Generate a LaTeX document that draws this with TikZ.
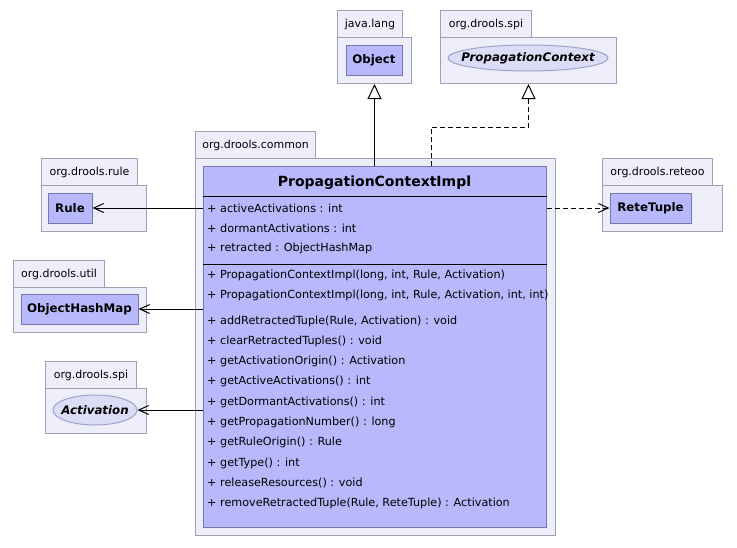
\documentclass[tikz,border=0pt]{standalone}
\usepackage{fontspec}
\setmainfont{DejaVu Sans}
\usetikzlibrary{arrows.meta,shapes.geometric}
\definecolor{pkgfill}{HTML}{EEEEFA}
\definecolor{pkgline}{HTML}{A0A0B4}
\definecolor{clsfill}{HTML}{B8B8FC}
\definecolor{clsline}{HTML}{7878A8}
\definecolor{ifcfill}{HTML}{DCDCF6}
\definecolor{ifcline}{HTML}{A0A0C8}
\tikzset{
  pkgbox/.style={draw=pkgline,fill=pkgfill,line width=1pt,anchor=north west,inner sep=0pt},
  pkglbl/.style={pkgbox,font=\fontsize{11}{13}\selectfont},
  cls/.style={draw=clsline,fill=clsfill,line width=1pt,inner sep=0pt,font=\fontsize{11.8}{14}\selectfont\bfseries},
  ifc/.style={ellipse,draw=ifcline,fill=ifcfill,line width=1pt,inner sep=0pt,font=\fontsize{11.8}{14}\selectfont\bfseries\itshape},
  member/.style={anchor=west,inner sep=0pt,font=\fontsize{11.2}{13}\selectfont},
  gen/.style={line width=1pt,-{Triangle[open,length=15pt,width=14pt]}},
  dep/.style={line width=1pt,-{Straight Barb[length=10pt,width=9pt]}},
}
\begin{document}
\begin{tikzpicture}[x=1pt,y=-1pt]
\useasboundingbox (0,0) rectangle (737,547);
% packages: name/x/y/tab width/body width/body height/label
\foreach \pk/\px/\py/\tw/\bw/\bh/\lb in {javalang/337/10/65/74/46/java.lang,spictx/440/10/91/176/46/org.drools.spi,common/195/131/120/360/377/org.drools.common,rule/41/158/96/105/46/org.drools.rule,util/13/260/91/133/45/org.drools.util,spiact/45/361/91/101/45/org.drools.spi,reteoo/602/158/110/120/46/org.drools.reteoo}{
  \node[pkglbl,minimum width=\tw,minimum height=27] (\pk-tab) at (\px,\py) {\lb};
  \node[pkgbox,minimum width=\bw,minimum height=\bh] (\pk) at (\px,\py+27) {};
}
% classes and interfaces
\node[cls,minimum width=56,minimum height=30] (object) at (374,60) {Object};
\node[ifc,minimum width=160,minimum height=26] (propctx) at (528,58) {\makebox[0pt]{PropagationContext}};
\node[cls,minimum width=44,minimum height=30] (rulecls) at (70,208) {Rule};
\node[cls,minimum width=117,minimum height=30] (hashmap) at (79.5,309) {ObjectHashMap};
\node[ifc,minimum width=84,minimum height=30] (activation) at (95,410) {\makebox[0pt]{Activation}};
\node[cls,minimum width=81,minimum height=30] (retetuple) at (650.5,208) {ReteTuple};
\node[cls,anchor=north west,minimum width=343,minimum height=361] (impl) at (203,166) {};
\node[font=\fontsize{14}{16}\selectfont\bfseries] (implname) at (374.5,183) {PropagationContextImpl};
\draw[line width=1pt] (impl.west |- 0,196) -- (impl.east |- 0,196);
\draw[line width=1pt] (impl.west |- 0,264) -- (impl.east |- 0,264);
\foreach \my/\mtxt [count=\mi] in {208/{+ activeActivations : int},228/{+ dormantActivations : int},248/{+ retracted : ObjectHashMap}}
  \node[member] (attr\mi) at (207,\my) {\mtxt};
\foreach \my/\mtxt [count=\mi] in {275/{+ PropagationContextImpl(long, int, Rule, Activation)},295/{+ PropagationContextImpl(long, int, Rule, Activation, int, int)},321/{+ addRetractedTuple(Rule, Activation) : void},341/{+ clearRetractedTuples() : void},361/{+ getActivationOrigin() : Activation},381/{+ getActiveActivations() : int},402/{+ getDormantActivations() : int},422/{+ getPropagationNumber() : long},442/{+ getRuleOrigin() : Rule},463/{+ getType() : int},483/{+ releaseResources() : void},503/{+ removeRetractedTuple(Rule, ReteTuple) : Activation}}
  \node[member] (op\mi) at (207,\my) {\mtxt};
% relations
\coordinate (bend) at (431,127);
\draw[gen] (impl.north -| javalang.south) -- (javalang.south);
\draw[gen,dash pattern=on 5pt off 3pt] (impl.north -| bend) |- (spictx.south |- bend) -- (spictx.south);
\draw[dep] (impl.west |- rulecls) -- (rulecls.east);
\draw[dep] (impl.west |- hashmap) -- (hashmap.east);
\draw[dep] (impl.west |- activation) -- (activation.east);
\draw[dep,dash pattern=on 5pt off 3pt] (impl.east |- retetuple) -- (retetuple.west);
\end{tikzpicture}
\end{document}
